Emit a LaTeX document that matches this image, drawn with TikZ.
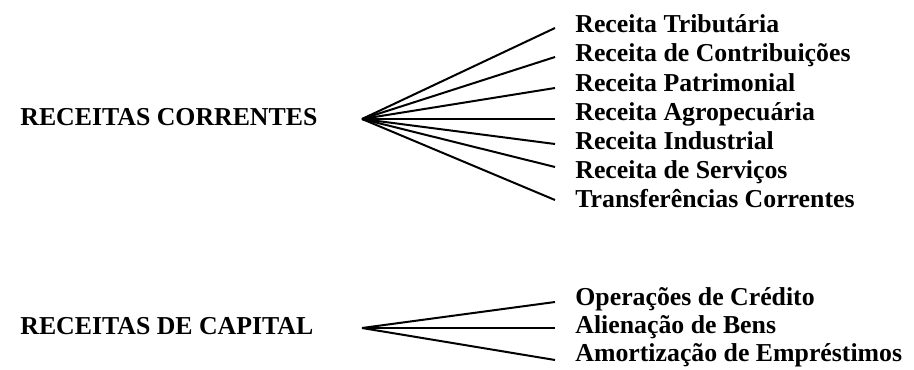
\documentclass[tikz,border=0pt]{standalone}
\usepackage{fontspec}
\setmainfont{Liberation Serif}
\begin{document}
\begin{tikzpicture}[x=0.5pt,y=-0.5pt,
  lbl/.style={font=\fontsize{12.9}{12.9}\selectfont\bfseries, inner sep=0pt, anchor=base west},
  fan/.style={line width=1pt}]
\useasboundingbox (0,0) rectangle (914,369);
% left labels
\node[lbl] (rc) at (20,126) {RECEITAS CORRENTES};
\node[lbl] (rk) at (20,334) {RECEITAS DE CAPITAL};
% hubs
\coordinate (h1) at (362,119);
\coordinate (h2) at (362,328);
% ends of upper fan
\coordinate (a1) at (555,28);
\coordinate (a2) at (555,57);
\coordinate (a3) at (555,88);
\coordinate (a4) at (555,119);
\coordinate (a5) at (555,144);
\coordinate (a6) at (555,167);
\coordinate (a7) at (555,200);
% ends of lower fan
\coordinate (b1) at (555,302);
\coordinate (b2) at (555,328);
\coordinate (b3) at (555,360);
% right labels
\node[lbl] (t1) at (575,33) {Receita Tributária};
\node[lbl] (t2) at (575,62) {Receita de Contribuições};
\node[lbl] (t3) at (575,91) {Receita Patrimonial};
\node[lbl] (t4) at (575,120) {Receita Agropecuária};
\node[lbl] (t5) at (575,149) {Receita Industrial};
\node[lbl] (t6) at (575,178) {Receita de Serviços};
\node[lbl] (t7) at (575,207) {Transferências Correntes};
\node[lbl] (c1) at (575,305) {Operações de Crédito};
\node[lbl] (c2) at (575,333) {Alienação de Bens};
\node[lbl] (c3) at (575,361) {Amortização de Empréstimos};
% fans
\foreach \i in {1,...,7} \draw[fan] (h1) -- (a\i);
\foreach \i in {1,2,3} \draw[fan] (h2) -- (b\i);
\end{tikzpicture}
\end{document}
